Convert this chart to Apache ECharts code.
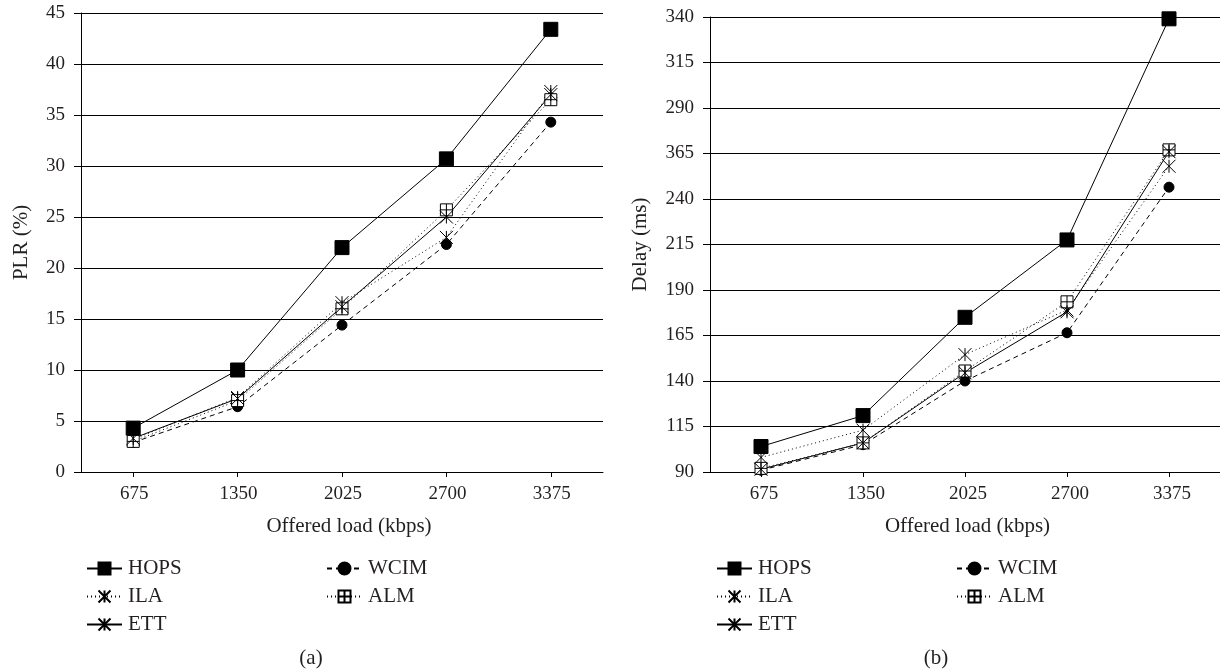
<!DOCTYPE html>
<html>
<head>
<meta charset="utf-8">
<script src="https://cdn.jsdelivr.net/npm/echarts@6/dist/echarts.min.js"></script>
<style>
html,body{margin:0;padding:0;background:#fff;}
#c{width:1220px;height:671px;}
</style>
</head>
<body>
<div id="c"></div>
<script>
var categories = ['675', '1350', '2025', '2700', '3375'];
var seriesNames = ['HOPS', 'WCIM', 'ILA', 'ALM', 'ETT'];

// (a) PLR (%)
var plrHOPS = [4.3, 10.0, 22.0, 30.7, 43.4];
var plrWCIM = [2.9, 6.4, 14.4, 22.3, 34.3];
var plrILA  = [3.2, 7.3, 16.6, 23.0, 37.3];
var plrALM  = [3.0, 7.0, 16.0, 25.7, 36.5];
var plrETT  = [3.3, 7.2, 16.2, 25.0, 37.0];

// (b) Delay (ms)
var delayHOPS = [104, 121, 175, 217.5, 339];
var delayWCIM = [91, 105, 140, 166.5, 246.5];
var delayILA  = [98, 113, 154.5, 179, 258];
var delayALM  = [92, 106, 145.5, 183.5, 267];
var delayETT  = [91.5, 106, 144.5, 178, 266];

var plrTickLabels = ['0','5','10','15','20','25','30','35','40','45'];
var delayTickLabels = ['90','115','140','165','190','215','240','365','290','315','340'];

var FONT = '"Liberation Serif", "DejaVu Serif", serif';
var TXT = '#231f20';
var TICK_FS = 19;
var NAME_FS = 21;

var styles = {
  HOPS: {symbol: 'rect', symbolSize: 14, type: 'solid', fill: '#000'},
  WCIM: {symbol: 'circle', symbolSize: 10, type: [5, 4], fill: '#000'},
  ILA:  {symbol: 'path://M0,0L10,10M10,0L0,10M5,0L5,10', symbolSize: 13, type: [1, 3], fill: '#000'},
  ALM:  {symbol: 'path://M0,0L10,0L10,10L0,10ZM5,0L5,10M0,5L10,5', symbolSize: 12, type: [1, 3], fill: '#fff'},
  ETT:  {symbol: 'path://M0,0L10,10M10,0L0,10M5,0L5,10', symbolSize: 13, type: 'solid', fill: '#000'}
};

function mk(name, data, idx) {
  var s = styles[name];
  return {
    name: name, type: 'line', data: data,
    xAxisIndex: idx, yAxisIndex: idx,
    symbol: s.symbol, symbolSize: s.symbolSize,
    lineStyle: {color: '#000', width: 1, type: s.type},
    itemStyle: {color: s.fill, borderColor: '#000', borderWidth: 1, opacity: 1},
    emphasis: {disabled: true},
    z: name === 'HOPS' ? 5 : 3
  };
}

function xAx(idx, namePad, labelPad) {
  return {
    type: 'category', gridIndex: idx, data: categories, boundaryGap: true,
    name: 'Offered load (kbps)', nameLocation: 'middle', nameGap: 44,
    nameTextStyle: {fontFamily: FONT, fontSize: NAME_FS, color: TXT, padding: [0, 0, 0, namePad]},
    axisLine: {show: true, lineStyle: {color: '#000', width: 1}},
    axisTick: {show: true, alignWithLabel: true, length: 5, inside: false, lineStyle: {color: '#000'}},
    axisLabel: {fontFamily: FONT, fontSize: TICK_FS, color: TXT, margin: 13, padding: [0, 0, 0, labelPad]},
    splitLine: {show: false}
  };
}

var option = {
  animation: false,
  backgroundColor: '#fff',
  grid: [
    {left: 81, top: 13, width: 522, height: 459},
    {left: 710, top: 17, width: 517, height: 455}
  ],
  xAxis: [xAx(0, 14, 2), xAx(1, 5, 6)],
  yAxis: [
    {
      type: 'value', gridIndex: 0, min: 0, max: 45, interval: 5,
      name: 'PLR (%)', nameLocation: 'middle', nameGap: 49,
      nameTextStyle: {fontFamily: FONT, fontSize: NAME_FS, color: TXT},
      axisLine: {show: true, lineStyle: {color: '#000', width: 1}},
      axisTick: {show: true, length: 7, lineStyle: {color: '#000'}},
      axisLabel: {fontFamily: FONT, fontSize: TICK_FS, color: TXT, margin: 16,
        formatter: function (v) { return plrTickLabels[Math.round(v / 5)]; }},
      splitLine: {show: true, lineStyle: {color: '#000', width: 1}}
    },
    {
      type: 'value', gridIndex: 1, min: 90, max: 340, interval: 25,
      name: 'Delay (ms)', nameLocation: 'middle', nameGap: 59,
      nameTextStyle: {fontFamily: FONT, fontSize: NAME_FS, color: TXT},
      axisLine: {show: true, lineStyle: {color: '#000', width: 1}},
      axisTick: {show: true, length: 7, lineStyle: {color: '#000'}},
      axisLabel: {fontFamily: FONT, fontSize: TICK_FS, color: TXT, margin: 16,
        formatter: function (v) { return delayTickLabels[Math.round((v - 90) / 25)]; }},
      splitLine: {show: true, lineStyle: {color: '#000', width: 1}}
    }
  ],
  legend: [
    {left: 81, top: 553, orient: 'vertical', data: ['HOPS', 'ILA', 'ETT']},
    {left: 321, top: 553, orient: 'vertical', data: ['WCIM', 'ALM']},
    {left: 711, top: 553, orient: 'vertical', data: ['HOPS', 'ILA', 'ETT']},
    {left: 951, top: 553, orient: 'vertical', data: ['WCIM', 'ALM']}
  ].map(function (l) {
    l.itemWidth = 35; l.itemHeight = 15; l.itemGap = 7;
    l.selectedMode = false;
    l.textStyle = {fontFamily: FONT, fontSize: NAME_FS, color: TXT, lineHeight: 15, padding: [0, 0, 0, 1]};
    return l;
  }),
  title: [
    {text: '(a)', left: 306, top: 643, textAlign: 'center',
      textStyle: {fontFamily: FONT, fontSize: NAME_FS, fontWeight: 'normal', color: TXT}},
    {text: '(b)', left: 931, top: 643, textAlign: 'center',
      textStyle: {fontFamily: FONT, fontSize: NAME_FS, fontWeight: 'normal', color: TXT}}
  ],
  series: [
    mk('HOPS', plrHOPS, 0), mk('WCIM', plrWCIM, 0), mk('ILA', plrILA, 0), mk('ALM', plrALM, 0), mk('ETT', plrETT, 0),
    mk('HOPS', delayHOPS, 1), mk('WCIM', delayWCIM, 1), mk('ILA', delayILA, 1), mk('ALM', delayALM, 1), mk('ETT', delayETT, 1)
  ]
};

var chart = echarts.init(document.getElementById('c'), null, {renderer: 'canvas'});
chart.setOption(option);
</script>
</body>
</html>
